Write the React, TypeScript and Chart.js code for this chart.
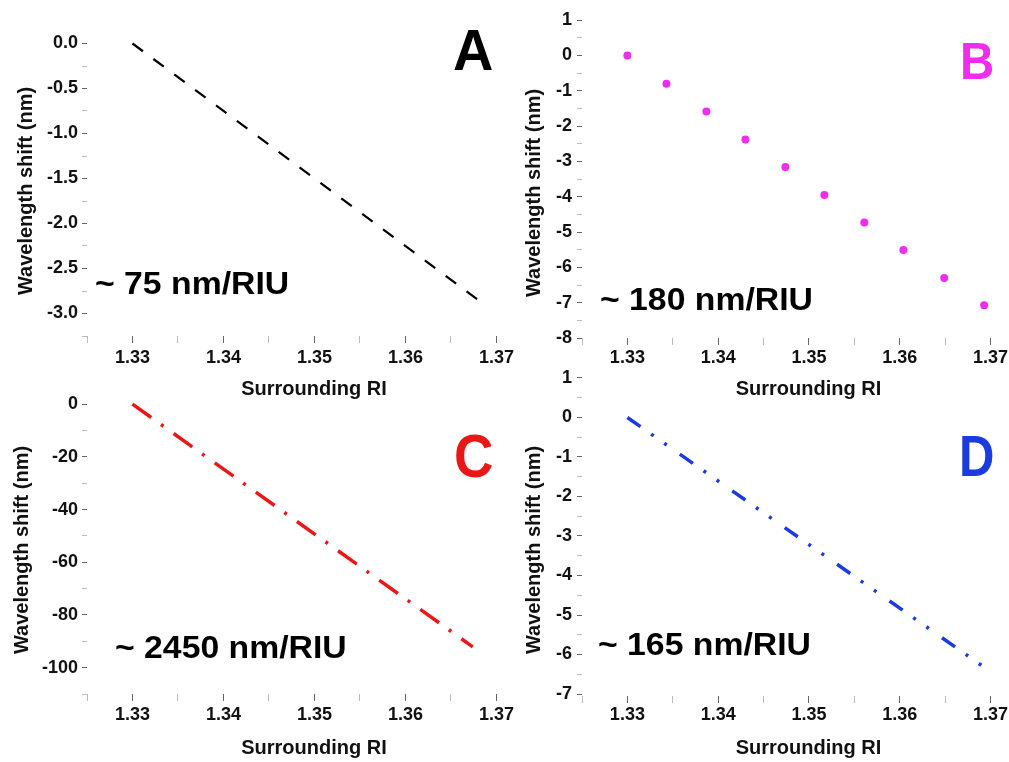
import React, { useEffect, useRef } from 'react';
import { Chart, registerables } from 'chart.js';

Chart.register(...registerables);

const FONT = "'Liberation Sans', Arial, Helvetica, sans-serif";

// ---------- data ----------
// Panel A: linear fit (~75 nm/RIU)
const aRI = [1.33, 1.368];
const aShift = [0, -2.85];
// Panel B: measured points (~180 nm/RIU)
const bRI = [1.33, 1.3343, 1.3387, 1.343, 1.3474, 1.3517, 1.3561, 1.3604, 1.3649, 1.3693];
const bShift = [0, -0.8, -1.59, -2.38, -3.16, -3.95, -4.73, -5.51, -6.3, -7.07];
// Panel C: linear fit (~2450 nm/RIU)
const cRI = [1.33, 1.3674];
const cShift = [0, -92.1];
// Panel D: linear fit (~165 nm/RIU)
const dRI = [1.33, 1.3691];
const dShift = [0, -6.29];

const xTickLabels = ['1.33', '1.34', '1.35', '1.36', '1.37'];
const aYTickLabels = ['0.0', '-0.5', '-1.0', '-1.5', '-2.0', '-2.5', '-3.0'];
const bYTickLabels = ['1', '0', '-1', '-2', '-3', '-4', '-5', '-6', '-7', '-8'];
const cYTickLabels = ['0', '-20', '-40', '-60', '-80', '-100'];
const dYTickLabels = ['1', '0', '-1', '-2', '-3', '-4', '-5', '-6', '-7'];

const panelLetters = ['A', 'B', 'C', 'D'];
const sensitivities = ['~ 75 nm/RIU', '~ 180 nm/RIU', '~ 2450 nm/RIU', '~ 165 nm/RIU'];
const xTitle = 'Surrounding RI';
const yTitle = 'Wavelength shift (nm)';

// ---------- panel styling / layout ----------
const panels = [
  {
    ri: aRI, shift: aShift, kind: 'line', color: '#000000', lineWidth: 2.2, dash: [13, 13],
    yMin: -3.25, yMax: 0.15, yStep: 0.25, yMajor: 0.5, yDecimals: 1, yLabels: aYTickLabels,
    letter: panelLetters[0], letterColor: '#000000', note: sensitivities[0],
    canvas: { left: 0, top: 0, w: 560, h: 401 }, padTop: 30, padRight: 19, yAxisW: 87, xAxisH: 65, xPad: 4, yPad: 4,
    letterPos: { x: 453, y: 70, size: 57, sx: 0.98 }, notePos: { x: 95, y: 294 }, yTitlePos: { x: 26, y: 191 },
  },
  {
    ri: bRI, shift: bShift, kind: 'points', color: '#f02cf0', lineWidth: 0, dash: [],
    yMin: -8, yMax: 1.2, yStep: 0.5, yMajor: 1, yDecimals: 0, yLabels: bYTickLabels,
    letter: panelLetters[1], letterColor: '#f02cf0', note: sensitivities[1],
    canvas: { left: 505, top: -7, w: 550, h: 408 }, padTop: 20, padRight: 20, yAxisW: 77, xAxisH: 63, xPad: 2, yPad: 5,
    letterPos: { x: 960, y: 79, size: 51, sx: 0.93 }, notePos: { x: 600, y: 310 }, yTitlePos: { x: 534, y: 193 },
  },
  {
    ri: cRI, shift: cShift, kind: 'line', color: '#e81818', lineWidth: 3.5, dash: [23, 12, 3, 12.5],
    yMin: -110, yMax: 5, yStep: 10, yMajor: 20, yDecimals: 0, yLabels: cYTickLabels,
    letter: panelLetters[2], letterColor: '#e81818', note: sensitivities[2],
    canvas: { left: 0, top: 370, w: 560, h: 390 }, padTop: 21, padRight: 19, yAxisW: 87, xAxisH: 66, xPad: 3, yPad: 4,
    letterPos: { x: 454, y: 477, size: 62, sx: 0.88 }, notePos: { x: 115, y: 658 }, yTitlePos: { x: 22, y: 550 },
  },
  {
    ri: dRI, shift: dShift, kind: 'line', color: '#1a3be0', lineWidth: 3.5, dash: [16, 13, 3, 13, 3, 16],
    yMin: -7.05, yMax: 1.1, yStep: 0.5, yMajor: 1, yDecimals: 0, yLabels: dYTickLabels,
    letter: panelLetters[3], letterColor: '#1a3be0', note: sensitivities[3],
    canvas: { left: 505, top: 355, w: 550, h: 405 }, padTop: 19, padRight: 20, yAxisW: 77, xAxisH: 64, xPad: 1, yPad: 5,
    letterPos: { x: 959, y: 476, size: 57, sx: 0.86 }, notePos: { x: 598, y: 655 }, yTitlePos: { x: 534, y: 550 },
  },
];

const panelTextPlugin = {
  id: 'panelText',
  afterDraw(chart: any, _args: any, o: any) {
    const ctx = chart.ctx;
    ctx.save();
    // y-axis title
    ctx.save();
    ctx.translate(o.yTitleX, o.yTitleY);
    ctx.rotate(-Math.PI / 2);
    ctx.font = `bold 20px ${FONT}`;
    ctx.fillStyle = '#111111';
    ctx.textAlign = 'center';
    ctx.textBaseline = 'middle';
    ctx.fillText(o.yTitle, 0, 0);
    ctx.restore();
    // sensitivity annotation
    ctx.save();
    ctx.translate(o.noteX, o.noteY);
    ctx.scale(1.055, 1);
    ctx.font = `bold 32px ${FONT}`;
    ctx.fillStyle = '#000000';
    ctx.textAlign = 'left';
    ctx.textBaseline = 'alphabetic';
    ctx.fillText(o.note, 0, 0);
    ctx.restore();
    // panel letter
    ctx.save();
    ctx.translate(o.letterX, o.letterY);
    ctx.scale(o.letterSX, 1);
    ctx.font = `bold ${o.letterSize}px ${FONT}`;
    ctx.fillStyle = o.letterColor;
    ctx.textAlign = 'left';
    ctx.textBaseline = 'alphabetic';
    ctx.fillText(o.letter, 0, 0);
    ctx.restore();
    ctx.restore();
  },
};

function isMajor(v: number, major: number) {
  const r = v / major;
  return Math.abs(r - Math.round(r)) < 1e-6;
}

function fmt(v: number, decimals: number) {
  const z = Math.abs(v) < 1e-9 ? 0 : v;
  return z.toFixed(decimals);
}

const tickColor = (c: any) => (c.tick && c.tick.label ? '#666666' : '#bbbbbb');

function buildConfig(p: any): any {
  const ox = p.canvas.left;
  const oy = p.canvas.top;
  const tickFont = { family: FONT, size: 18, weight: 'bold' };
  return {
    type: 'scatter',
    data: {
      datasets: [
        {
          data: p.ri.map((x: number, i: number) => ({ x, y: p.shift[i] })),
          showLine: p.kind === 'line',
          borderColor: p.color,
          backgroundColor: p.color,
          borderWidth: p.lineWidth,
          borderDash: p.dash,
          borderCapStyle: 'butt',
          pointRadius: p.kind === 'line' ? 0 : 4,
          pointHoverRadius: p.kind === 'line' ? 0 : 4,
          pointBackgroundColor: p.color,
          pointBorderWidth: 0,
          pointBorderColor: p.color,
        },
      ],
    },
    plugins: [panelTextPlugin],
    options: {
      animation: false,
      responsive: false,
      devicePixelRatio: 1,
      events: [],
      layout: { padding: { top: p.padTop, right: p.padRight, left: 0, bottom: 0 } },
      plugins: {
        legend: { display: false },
        tooltip: { enabled: false },
        panelText: {
          yTitle, yTitleX: p.yTitlePos.x - ox, yTitleY: p.yTitlePos.y - oy,
          note: p.note, noteX: p.notePos.x - ox, noteY: p.notePos.y - oy,
          letter: p.letter, letterColor: p.letterColor, letterSize: p.letterPos.size, letterSX: p.letterPos.sx,
          letterX: p.letterPos.x - ox, letterY: p.letterPos.y - oy,
        },
      },
      scales: {
        x: {
          type: 'linear',
          min: 1.325,
          max: 1.3749,
          afterFit: (s: any) => { s.height = p.xAxisH; },
          border: { display: false },
          grid: { drawOnChartArea: false, drawTicks: true, tickLength: 7, lineWidth: 1, tickColor },
          ticks: {
            stepSize: 0.005,
            autoSkip: false,
            maxRotation: 0,
            minRotation: 0,
            includeBounds: false,
            padding: p.xPad,
            color: '#111111',
            font: tickFont,
            callback: (v: any) => {
              const n = Number(v);
              if (!isMajor(n, 0.01)) return '';
              const s = fmt(n, 2);
              return xTickLabels.includes(s) ? s : '';
            },
          },
          title: {
            display: true,
            text: xTitle,
            color: '#111111',
            font: { family: FONT, size: 20, weight: 'bold' },
            padding: { top: 0, bottom: 0 },
          },
        },
        y: {
          type: 'linear',
          min: p.yMin,
          max: p.yMax,
          afterFit: (s: any) => { s.width = p.yAxisW; },
          border: { display: false },
          grid: { drawOnChartArea: false, drawTicks: true, tickLength: 5, lineWidth: 1, tickColor },
          ticks: {
            stepSize: p.yStep,
            autoSkip: false,
            includeBounds: false,
            padding: p.yPad,
            color: '#111111',
            font: tickFont,
            callback: (v: any) => {
              const n = Number(v);
              if (!isMajor(n, p.yMajor)) return '';
              const s = fmt(n, p.yDecimals);
              return p.yLabels.includes(s) ? s : '';
            },
          },
          title: { display: false },
        },
      },
    },
  };
}

function PanelChart({ p }: { p: any }) {
  const ref = useRef<HTMLCanvasElement>(null);
  useEffect(() => {
    const chart = new Chart(ref.current as HTMLCanvasElement, buildConfig(p));
    return () => chart.destroy();
  }, [p]);
  return (
    <canvas
      ref={ref}
      width={p.canvas.w}
      height={p.canvas.h}
      style={{ position: 'absolute', left: p.canvas.left, top: p.canvas.top, width: p.canvas.w, height: p.canvas.h }}
    />
  );
}

export default function App() {
  return (
    <div
      style={{
        position: 'absolute', left: 0, top: 0, width: 1009, height: 762,
        overflow: 'hidden', background: '#ffffff',
      }}
    >
      {panels.map((p, i) => (
        <PanelChart key={i} p={p} />
      ))}
    </div>
  );
}
